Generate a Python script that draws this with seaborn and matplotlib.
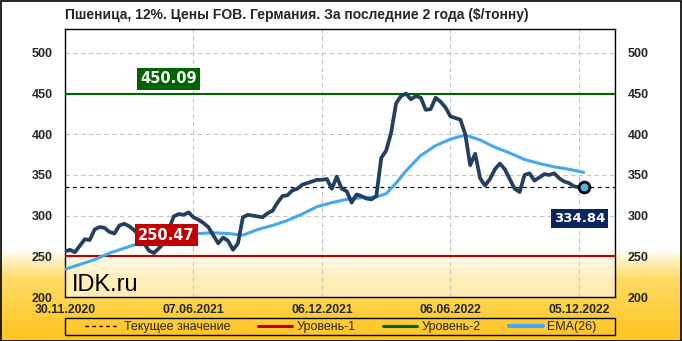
import numpy as np
import pandas as pd
import matplotlib
matplotlib.use("Agg")
import matplotlib.pyplot as plt
import seaborn as sns
from matplotlib.lines import Line2D
from matplotlib.colors import LinearSegmentedColormap
from matplotlib.patches import Rectangle

# ---------------- data ----------------
title = "Пшеница, 12%. Цены FOB. Германия. За последние 2 года ($/тонну)"

price = [256, 258, 255, 263, 271, 270, 283, 286, 285, 280,
         278, 288, 290, 287, 282, 276, 266, 257, 254, 260,
         266, 283, 299, 302, 301, 304, 298, 295, 291, 286,
         276, 266, 273, 269, 258, 266, 298, 301, 300, 299,
         298, 303, 306, 316, 324, 325, 331, 333, 338, 340,
         342, 344, 344, 345, 333, 348, 333, 330, 316, 326,
         324, 321, 320, 324, 371, 380, 402, 438, 447, 450,
         443, 447, 445, 430, 431, 445, 440, 433, 422, 420,
         418, 400, 362, 376, 346, 337, 345, 357, 364, 357,
         345, 333, 329, 350, 352, 343, 347, 351, 350, 352,
         346, 342, 340, 336, 335, 334.84]

ema_idx = [0, 3, 6, 9, 12, 15, 18, 21, 24, 27, 30, 33, 36, 39, 42, 45, 48, 51,
           54, 57, 60, 63, 65, 67, 69, 72, 75, 78, 81, 84, 87, 90, 93, 96, 99,
           102, 105]
ema_val = [234, 240, 246, 254, 260, 266, 271, 275, 277, 278, 279, 278, 276,
           283, 288, 294, 302, 311, 316, 320, 322, 323, 327, 340, 355, 374,
           386, 394, 399, 393, 384, 377, 369, 364, 360, 357, 353]

tick_idx = [0, 26, 52, 78, 104]
tick_labels = ["30.11.2020", "07.06.2021", "06.12.2021", "06.06.2022", "05.12.2022"]
y_ticks = [200, 250, 300, 350, 400, 450, 500]

level1 = 250.47
level2 = 450.09
current = 334.84

legend_labels = ["Текущее значение", "Уровень-1", "Уровень-2", "EMA(26)"]

# ---------------- style ----------------
sns.set_style("white")
plt.rcParams['font.family'] = ['Liberation Sans', 'DejaVu Sans']

C_PRICE = "#243F60"
C_EMA = "#45A8F0"
C_L1 = "#C00000"
C_L2 = "#006400"
C_CUR_BOX = "#0B2560"

df = pd.DataFrame({"i": np.arange(len(price)), "price": price})
df_ema = pd.DataFrame({"i": ema_idx, "ema": ema_val})

W, H = 682, 341
fig = plt.figure(figsize=(W / 100, H / 100), dpi=100)

# background gradient
bg = fig.add_axes([0, 0, 1, 1], zorder=-10)
bg.set_axis_off()
cmap = LinearSegmentedColormap.from_list(
    "bgc", [(0.0, "#FFC41F"), (0.18, "#FFDB66"), (0.27, "#FFFFFF"), (1.0, "#FFFFFF")])
grad = np.linspace(0, 1, 400).reshape(-1, 1)
bg.imshow(grad, aspect="auto", cmap=cmap, origin="lower", extent=[0, 1, 0, 1])
bg.set_xlim(0, 1)
bg.set_ylim(0, 1)

ax = fig.add_axes([65 / W, 44 / H, 550 / W, 268.5 / H])
ax.set_facecolor((1, 1, 1, 0.55))

ax.set_ylim(200, 530)
ax.set_xlim(0, 111.3)

ax.grid(True, color="#C4C4C4", ls=(0, (4, 3)), lw=0.8)
ax.set_yticks(y_ticks)
ax.set_xticks(tick_idx)
ax.set_xticklabels(tick_labels)
ax.tick_params(axis="y", length=0, labelsize=9, pad=9, labelleft=True, labelright=True)
ax.tick_params(axis="x", length=0, labelsize=8.8, pad=5)
for lab in ax.get_xticklabels() + ax.get_yticklabels():
    lab.set_fontweight("bold")
for sp in ax.spines.values():
    sp.set_color("black")
    sp.set_linewidth(1)

# level lines & current
ax.axhline(level2, color=C_L2, lw=1.5, zorder=3)
ax.axhline(level1, color=C_L1, lw=1.5, zorder=3)
ax.axhline(current, color="black", lw=0.9, ls=(0, (3, 3)), zorder=3)

sns.lineplot(data=df_ema, x="i", y="ema", ax=ax, color=C_EMA, lw=2.2, zorder=4)
sns.lineplot(data=df, x="i", y="price", ax=ax, color=C_PRICE, lw=2.7, zorder=5)
ax.set_xlabel("")
ax.set_ylabel("")

ax.scatter([df["i"].iloc[-1]], [price[-1]], s=60, color="#52B6DA",
           edgecolor="black", linewidths=2.0, zorder=6)

# value boxes
ax.text(21.0, 468, f"{level2:.2f}", ha="center", va="center", color="white",
        fontsize=10.5, fontweight="bold", family="DejaVu Sans", zorder=7,
        bbox=dict(boxstyle="square,pad=0.22", fc=C_L2, ec="none"))
ax.text(20.5, 276, f"{level1:.2f}", ha="center", va="center", color="white",
        fontsize=10.5, fontweight="bold", family="DejaVu Sans", zorder=7,
        bbox=dict(boxstyle="square,pad=0.22", fc=C_L1, ec="none"))
ax.text(104.1, 296.5, f"{current:.2f}", ha="center", va="center", color="white",
        fontsize=9.5, fontweight="bold", family="DejaVu Sans", zorder=7,
        bbox=dict(boxstyle="square,pad=0.22", fc=C_CUR_BOX, ec="none"))

ax.text(0.012, 0.022, "IDK.ru", transform=ax.transAxes, fontsize=17,
        color="black", ha="left", va="baseline", zorder=7)

# title
fig.text(65 / W, 1 - 15 / H, title, ha="left", va="center", fontsize=10,
         fontweight="bold")

# legend (frame drawn separately to span the plot width)
handles = [
    Line2D([], [], color="black", lw=1, ls=(0, (2.5, 2.5))),
    Line2D([], [], color=C_L1, lw=2.2),
    Line2D([], [], color=C_L2, lw=2.2),
    Line2D([], [], color=C_EMA, lw=3),
]
fig.legend(handles, legend_labels, loc="center", ncol=4,
           bbox_to_anchor=(341 / W, 14 / H), fontsize=9,
           frameon=False, handlelength=2.7, handletextpad=0.4, borderpad=0.1,
           borderaxespad=0.0, columnspacing=2.2)
fig.add_artist(Rectangle((65 / W, 6 / H), 550 / W, 17 / H,
                         transform=fig.transFigure, fill=False, ec="black", lw=1.0))

# outer border
fig.add_artist(Rectangle((0.5 / W, 0.5 / H), 1 - 1.5 / W, 1 - 1.5 / H,
                         transform=fig.transFigure, fill=False, ec="black", lw=1.2))

fig.savefig("out.png", dpi=100)
